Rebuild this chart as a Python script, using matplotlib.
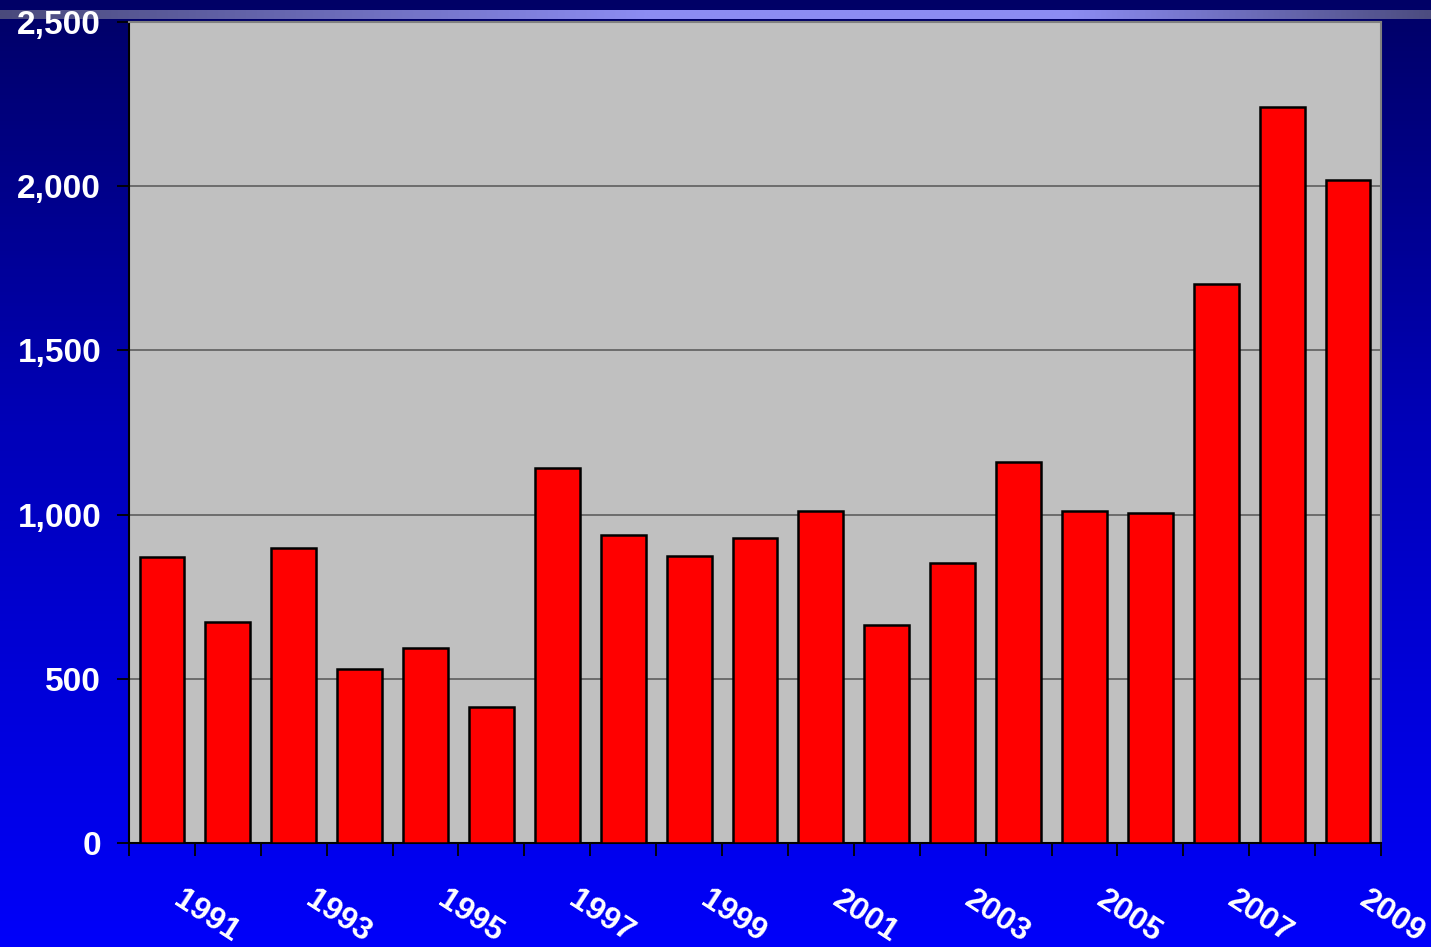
import matplotlib
matplotlib.use("Agg")
import matplotlib.pyplot as plt
import numpy as np
from matplotlib.colors import LinearSegmentedColormap
import matplotlib.transforms as mtransforms

years = [1991, 1992, 1993, 1994, 1995, 1996, 1997, 1998, 1999, 2000,
         2001, 2002, 2003, 2004, 2005, 2006, 2007, 2008, 2009]
values = [871, 673, 898, 530, 594, 414, 1142, 938, 874, 929,
          1011, 664, 853, 1160, 1011, 1005, 1702, 2241, 2019]
y_ticks = [0, 500, 1000, 1500, 2000, 2500]
label_years = [1991, 1993, 1995, 1997, 1999, 2001, 2003, 2005, 2007, 2009]

W, H = 1431, 947
fig = plt.figure(figsize=(W / 100, H / 100), dpi=100)

# background vertical gradient
bg = fig.add_axes([0, 0, 1, 1], zorder=-10)
bg_cmap = LinearSegmentedColormap.from_list(
    "bg", [(0.0, "#000066"), (0.45, "#0000b8"), (1.0, "#0000fa")])
grad = np.linspace(0, 1, 256).reshape(-1, 1)
bg.imshow(grad, aspect="auto", cmap=bg_cmap, extent=[0, 1, 0, 1], origin="upper")
bg.set_axis_off()

# top horizontal band
band = fig.add_axes([0, (H - 19) / H, 1, 9 / H], zorder=-5)
band_cmap = LinearSegmentedColormap.from_list(
    "band", [(0.0, "#4a4a7c"), (0.45, "#8c8cf2"), (0.75, "#8c8cf2"), (1.0, "#4c4c80")])
bgrad = np.linspace(0, 1, 512).reshape(1, -1)
band.imshow(bgrad, aspect="auto", cmap=band_cmap, extent=[0, 1, 0, 1])
band.set_axis_off()

ax = fig.add_axes([129 / W, (H - 843) / H, 1252 / W, 821 / H])
ax.set_facecolor("#c0c0c0")

x = np.arange(len(years))
ax.bar(x, values, width=0.68, color="#ff0000", edgecolor="black", linewidth=1.8, zorder=3)

ax.set_xlim(-0.5, len(years) - 0.5)
ax.set_ylim(0, 2500)
ax.set_yticks(y_ticks)
ax.set_yticklabels([f"{v:,}" for v in y_ticks], color="white", fontsize=24,
                   fontweight="bold", family="Liberation Sans")
ax.yaxis.grid(True, color="#555555", linewidth=1.1, zorder=1)
ax.set_axisbelow(True)

ax.set_xticks(np.arange(-0.5, len(years), 1.0))
ax.set_xticklabels([])
ax.tick_params(axis="x", direction="out", length=9, width=1.3, color="black")
ax.tick_params(axis="y", direction="out", length=9, width=1.3, color="black", pad=11)

for s in ["left", "bottom"]:
    ax.spines[s].set_color("black")
    ax.spines[s].set_linewidth(1.5)
for s in ["top", "right"]:
    ax.spines[s].set_color("#808080")
    ax.spines[s].set_linewidth(1.5)

trans = mtransforms.blended_transform_factory(ax.transData, ax.transAxes)
for yr in label_years:
    i = years.index(yr)
    ax.text(i + 0.67, -0.090, str(yr), transform=trans, rotation=-33,
            rotation_mode="anchor", ha="center", va="center", color="white",
            fontsize=23, fontweight="bold",
            family="Liberation Sans", clip_on=False)

fig.savefig("out.png", dpi=100)
